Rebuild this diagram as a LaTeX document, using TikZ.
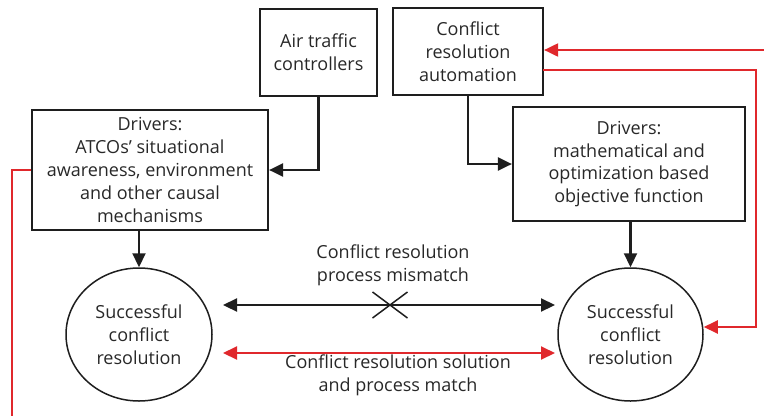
\documentclass[tikz,border=0pt]{standalone}
\usepackage{fontspec}
\setmainfont{Open Sans}
\usetikzlibrary{arrows.meta,shapes.geometric,calc}
\definecolor{ink}{RGB}{30,30,30}
\definecolor{txt}{RGB}{40,40,40}
\definecolor{fb}{RGB}{224,40,44}
\tikzset{
  lbl/.style={font=\fontsize{18}{22.8}\selectfont, text=txt, align=center, inner sep=0pt},
  box/.style={lbl, draw=ink, line width=2.2pt, rectangle},
  oval/.style={lbl, draw=ink, line width=1.5pt, ellipse, inner sep=0pt},
  tip/.style={-{Triangle[length=14pt,width=13pt]}},
  twotip/.style={{Triangle[length=14pt,width=13pt]}-{Triangle[length=14pt,width=13pt]}},
  flow/.style={draw=ink, line width=2.2pt},
  loop/.style={draw=fb, line width=2pt}
}
\begin{document}
\begin{tikzpicture}[x=1pt,y=-1pt]
\useasboundingbox (0,0) rectangle (764,416);

% upper boxes
\node[box, minimum width=117pt, minimum height=87pt] (atc) at (318.5,52.5) {Air traffic\\controllers};
\node[box, minimum width=236pt, minimum height=120pt] (drvL) at (150,170)
  {Drivers:\\ATCOs' situational\\awareness, environment\\and other causal\\mechanisms};
\node[box, minimum width=150pt, minimum height=87pt] (cra) at (468,51.5) {Conflict\\resolution\\automation};
\node[box, minimum width=232pt, minimum height=114pt] (drvR) at (629,164)
  {Drivers:\\mathematical and\\optimization based\\objective function};

% outcome ellipses
\node[oval, minimum width=146pt, minimum height=133pt] (ellL) at (139,334.5) {Successful\\conflict\\resolution};
\node[oval, minimum width=145pt, minimum height=133pt] (ellR) at (630.5,334.5) {Successful\\conflict\\resolution};

% free ends of the comparison arrows and feedback loops
\coordinate (mmL) at (223,305);
\coordinate (mmR) at (555,305);
\coordinate (okL) at (223,353);
\coordinate (okR) at (555,353);
\coordinate (xc) at (390,305);
\coordinate (inR) at (764,50);
\coordinate (outR) at (543,70);
\coordinate (fbR) at (756,327);
\coordinate (fbL) at (12,416);

% black flows
\draw[flow, tip] (atc.south) |- (drvL.east);
\draw[flow, tip] (cra.south) |- (drvR.west);
\draw[flow, tip] (drvL.south -| ellL.north) -- (ellL.north);
\draw[flow, tip] (drvR.south -| ellR.north) -- (ellR.north);

% mismatch arrow with cross
\draw[flow, twotip] (mmL) -- (mmR);
\draw[draw=ink, line width=1.5pt] ($(xc)+(-17.5,-13)$) -- ($(xc)+(17.5,13)$);
\draw[draw=ink, line width=1.5pt] ($(xc)+(-17.5,13)$) -- ($(xc)+(17.5,-13)$);
\node[lbl] (mmtxt) at (393,265) {Conflict resolution\\process mismatch};

% match arrow
\draw[loop, twotip] (okL) -- (okR);
\node[lbl] (oktxt) at (398,375) {Conflict resolution solution\\and process match};

% red feedback loops
\draw[loop, tip] (inR) -- (inR -| cra.east);
\draw[loop, tip] (outR) -| (fbR) -- (fbR -| ellR.east);
\draw[loop] (drvL.west) -| (fbL);
\end{tikzpicture}
\end{document}
